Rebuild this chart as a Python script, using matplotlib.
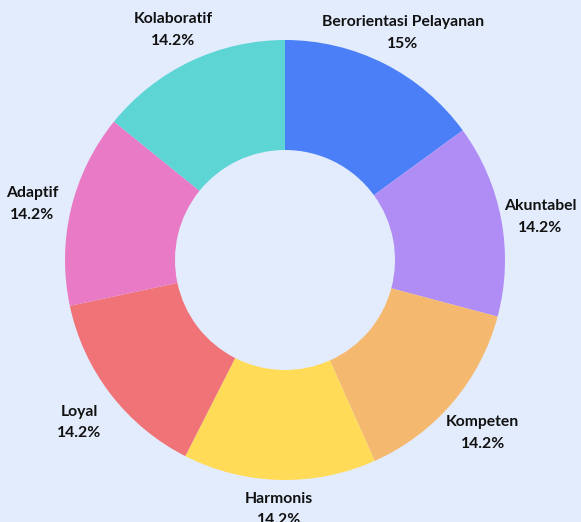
import numpy as np
import matplotlib
matplotlib.use("Agg")
import matplotlib.pyplot as plt

# data
labels = ["Berorientasi Pelayanan", "Akuntabel", "Kompeten", "Harmonis",
          "Loyal", "Adaptif", "Kolaboratif"]
values = [15, 14.2, 14.2, 14.2, 14.2, 14.2, 14.2]
colors = ["#4a7ff7", "#b08cf5", "#f4b96e", "#ffdb58", "#f07378", "#e97ac5", "#5dd5d4"]

bg = "#e3ecfd"
plt.rcParams["font.family"] = ["Lato", "DejaVu Sans"]

fig = plt.figure(figsize=(5.81, 5.22), dpi=100, facecolor=bg)
W, H = 581, 522
cx, cy, R = 285, 260, 220
ax = fig.add_axes([(cx - R) / W, (H - cy - R) / H, 2 * R / W, 2 * R / H])
ax.set_facecolor(bg)

wedges, _ = ax.pie(values, colors=colors, startangle=90, counterclock=False,
                   radius=1.0, wedgeprops=dict(width=0.5, linewidth=0))

total = sum(values)
start = 90.0
for lab, v in zip(labels, values):
    mid = start - v / total * 360 / 2
    start -= v / total * 360
    a = np.deg2rad(mid)
    # label ring a bit tighter at the very bottom, like the original
    r = 1.115 if np.sin(a) < -0.9 else 1.18
    x, y = r * np.cos(a), r * np.sin(a) - 0.02
    pct = "%g%%" % v
    ax.text(x, y, lab + "\n" + pct, ha="center", va="center", fontsize=11.3,
            fontweight="bold", color="#111111", linespacing=1.7, clip_on=False)

ax.set_xlim(-1, 1)
ax.set_ylim(-1, 1)
ax.set_aspect("equal")
ax.axis("off")

fig.savefig("out.png", dpi=100, facecolor=bg)
